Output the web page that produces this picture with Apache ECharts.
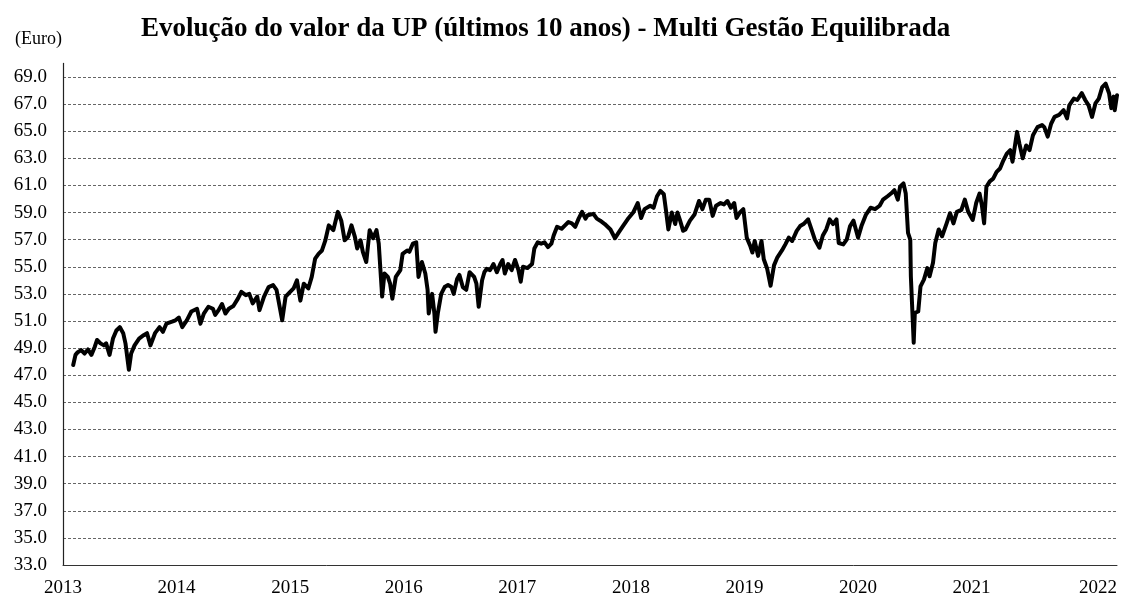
<!DOCTYPE html>
<html>
<head>
<meta charset="utf-8">
<script src="https://cdn.jsdelivr.net/npm/echarts@6/dist/echarts.min.js"></script>
<style>html,body{margin:0;padding:0;background:#fff}#c{width:1128px;height:598px}</style>
</head>
<body>
<div id="c"></div>
<script>
const titleText = 'Evolução do valor da UP (últimos 10 anos) - Multi Gestão Equilibrada';
const unitLabel = '(Euro)';
const yearLabels = ['2013','2014','2015','2016','2017','2018','2019','2020','2021','2022'];

const years = [
2013.09,2013.11,2013.13,2013.16,2013.19,2013.22,2013.25,2013.28,2013.30,2013.33,2013.36,2013.38,2013.41,2013.44,2013.47,2013.50,2013.53,2013.55,2013.58,2013.60,
2013.63,2013.67,2013.71,2013.74,2013.77,2013.81,2013.85,2013.88,2013.91,2013.96,2013.99,2014.02,2014.05,2014.09,2014.13,2014.18,2014.21,2014.24,2014.28,2014.32,
2014.34,2014.37,2014.40,2014.43,2014.46,2014.50,2014.54,2014.57,2014.61,2014.64,2014.67,2014.71,2014.73,2014.77,2014.81,2014.85,2014.88,2014.93,2014.96,2015.00,
2015.03,2015.06,2015.09,2015.12,2015.16,2015.19,2015.22,2015.25,2015.28,2015.31,2015.34,2015.38,2015.42,2015.45,2015.48,2015.51,2015.54,2015.57,2015.59,2015.62,
2015.64,2015.67,2015.70,2015.73,2015.76,2015.78,2015.81,2015.83,2015.86,2015.88,2015.90,2015.93,2015.97,2015.99,2016.03,2016.05,2016.08,2016.11,2016.13,2016.16,
2016.19,2016.21,2016.22,2016.25,2016.27,2016.28,2016.30,2016.33,2016.36,2016.39,2016.42,2016.44,2016.47,2016.49,2016.52,2016.55,2016.58,2016.62,2016.64,2016.66,
2016.69,2016.71,2016.73,2016.76,2016.79,2016.82,2016.85,2016.87,2016.89,2016.92,2016.95,2016.98,2017.01,2017.03,2017.05,2017.09,2017.13,2017.15,2017.18,2017.21,
2017.24,2017.27,2017.30,2017.32,2017.35,2017.39,2017.42,2017.45,2017.48,2017.51,2017.54,2017.57,2017.60,2017.62,2017.67,2017.70,2017.73,2017.77,2017.82,2017.86,
2017.89,2017.93,2017.98,2018.02,2018.06,2018.09,2018.12,2018.17,2018.20,2018.23,2018.26,2018.29,2018.31,2018.33,2018.36,2018.39,2018.41,2018.43,2018.46,2018.48,
2018.52,2018.56,2018.60,2018.63,2018.66,2018.69,2018.72,2018.75,2018.79,2018.82,2018.85,2018.88,2018.91,2018.93,2018.96,2018.99,2019.02,2019.05,2019.07,2019.09,
2019.12,2019.15,2019.17,2019.20,2019.23,2019.26,2019.29,2019.33,2019.36,2019.39,2019.42,2019.46,2019.49,2019.52,2019.56,2019.59,2019.62,2019.66,2019.69,2019.72,
2019.75,2019.78,2019.81,2019.83,2019.87,2019.90,2019.93,2019.96,2020.00,2020.03,2020.07,2020.11,2020.15,2020.19,2020.22,2020.26,2020.29,2020.32,2020.35,2020.37,
2020.40,2020.42,2020.44,2020.46,2020.465,2020.475,2020.49,2020.50,2020.53,2020.55,2020.58,2020.61,2020.63,2020.66,2020.68,2020.71,2020.74,2020.78,2020.81,2020.84,
2020.87,2020.91,2020.94,2020.97,2021.01,2021.04,2021.07,2021.09,2021.11,2021.13,2021.16,2021.19,2021.22,2021.25,2021.28,2021.31,2021.34,2021.36,2021.40,2021.42,
2021.45,2021.48,2021.51,2021.54,2021.58,2021.62,2021.64,2021.67,2021.70,2021.73,2021.77,2021.81,2021.84,2021.86,2021.90,2021.93,2021.97,2022.00,2022.03,2022.06,
2022.09,2022.12,2022.15,2022.18,2022.21,2022.23,2022.25,2022.26,2022.28
];

const values = [
47.75,48.5,48.7,48.85,48.6,48.9,48.5,49.1,49.6,49.35,49.2,49.35,48.5,49.7,50.3,50.55,50.1,49.35,47.4,48.6,
49.2,49.7,49.95,50.1,49.2,50.1,50.55,50.2,50.8,50.95,51.05,51.25,50.55,51.05,51.7,51.9,50.8,51.55,52.05,51.9,
51.45,51.8,52.25,51.55,51.9,52.1,52.65,53.15,52.9,53.0,52.3,52.8,51.8,52.8,53.5,53.65,53.3,51.05,52.8,53.15,
53.4,54.0,52.5,53.75,53.4,54.25,55.6,55.95,56.2,56.95,58.05,57.7,59.05,58.4,56.95,57.2,58.05,57.2,56.35,56.95,
56.1,55.35,57.7,57.1,57.7,56.7,52.8,54.5,54.25,53.75,52.65,54.25,54.75,55.95,56.2,56.1,56.7,56.8,54.25,55.35,
54.5,53.3,51.55,53.0,51.55,50.2,51.55,53.0,53.5,53.65,53.5,53.0,54.1,54.4,53.5,53.3,54.6,54.25,53.75,52.05,
54.0,54.6,54.85,54.75,55.2,54.6,55.2,55.5,54.5,55.2,54.75,55.5,54.75,53.9,55.0,54.9,55.2,56.35,56.8,56.7,
56.8,56.45,56.7,57.3,57.95,57.8,58.05,58.3,58.2,57.95,58.55,59.05,58.55,58.8,58.9,58.55,58.4,58.15,57.75,57.1,
57.5,58.0,58.6,59.0,59.7,58.6,59.25,59.5,59.35,60.2,60.6,60.35,59.1,57.75,59.0,58.15,59.0,58.5,57.65,57.75,
58.4,58.85,59.85,59.25,59.95,59.95,58.75,59.5,59.7,59.6,59.85,59.35,59.7,58.6,59.0,59.25,57.15,56.55,56.05,56.9,
55.8,56.9,55.55,54.85,53.6,55.1,55.7,56.2,56.65,57.15,56.9,57.65,58.0,58.15,58.5,57.75,57.0,56.4,57.3,57.75,
58.5,58.15,58.5,56.75,56.65,57.0,58.0,58.4,57.15,58.0,58.85,59.35,59.25,59.5,59.95,60.2,60.4,60.65,59.95,60.9,
61.15,60.4,57.5,57.0,54.3,52.35,49.4,51.6,51.7,53.55,54.05,54.9,54.3,55.3,56.75,57.75,57.25,58.2,58.95,58.2,
59.05,59.2,59.95,59.05,58.45,59.7,60.4,59.55,58.2,60.9,61.3,61.5,62.0,62.25,62.85,63.35,63.6,62.75,64.95,64.1,
63.0,63.95,63.6,64.7,65.3,65.45,65.3,64.6,65.55,66.05,66.2,66.55,65.95,66.9,67.4,67.3,67.8,67.3,66.9,66.05,
67.05,67.4,68.25,68.5,67.8,66.7,67.55,66.55,67.65
];

const seriesData = years.map((y, i) => [y, values[i]]);
const xMin = 2013, xMax = 2022.28;
const serif = '"Liberation Serif", "Times New Roman", serif';

const chart = echarts.init(document.getElementById('c'), null, {renderer: 'canvas'});
chart.setOption({
  animation: false,
  backgroundColor: '#ffffff',
  title: [
    {text: titleText, left: 136, top: 11,
     textStyle: {fontFamily: serif, fontSize: 27, fontWeight: 'bold', color: '#000'}},
    {text: unitLabel, left: 10, top: 25,
     textStyle: {fontFamily: serif, fontSize: 18, fontWeight: 'normal', color: '#000'}}
  ],
  grid: {left: 63, right: 11, top: 63.4, bottom: 33, containLabel: false},
  xAxis: {
    type: 'value', min: xMin, max: xMax, interval: 1,
    axisLine: {show: true, lineStyle: {color: '#333', width: 1}},
    axisTick: {show: false},
    splitLine: {show: false},
    axisLabel: {
      fontFamily: serif, fontSize: 19, color: '#000', margin: 14,
      showMinLabel: true, showMaxLabel: true, alignMaxLabel: 'right',
      formatter: function (v) {
        if (v > 2022.1) return yearLabels[yearLabels.length - 1];
        const idx = Math.round(v - xMin);
        if (Math.abs(v - Math.round(v)) < 1e-6 && idx < yearLabels.length - 1) return yearLabels[idx];
        return '';
      }
    }
  },
  yAxis: {
    type: 'value', min: 33, max: 70, interval: 2,
    axisLine: {show: true, lineStyle: {color: '#222', width: 1.2}},
    axisTick: {show: false},
    splitLine: {show: true, showMinLine: false, showMaxLine: false,
      lineStyle: {color: '#666', width: 1, type: [3, 2]}},
    axisLabel: {
      fontFamily: serif, fontSize: 19, color: '#000', margin: 16,
      showMaxLabel: false,
      formatter: function (v) { return v >= 70 ? '' : v.toFixed(1); }
    }
  },
  series: [{
    type: 'line', data: seriesData, showSymbol: false, smooth: false,
    lineStyle: {color: '#000', width: 4, join: 'round', cap: 'round'},
    clip: false
  }]
});
</script>
</body>
</html>
